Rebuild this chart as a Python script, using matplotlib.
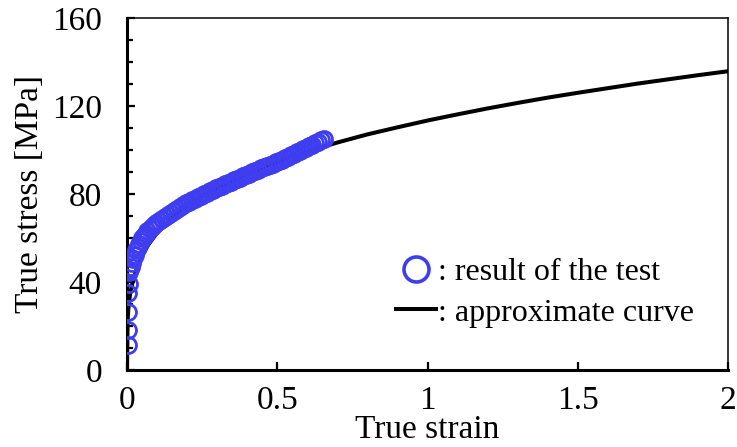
import matplotlib
matplotlib.use("Agg")
import matplotlib.pyplot as plt
from matplotlib.lines import Line2D
from matplotlib.ticker import MultipleLocator

plt.rcParams['font.family'] = ['Liberation Serif', 'DejaVu Serif']
plt.rcParams['font.size'] = 24

# test result
test_strain = [0.003, 0.003, 0.003, 0.004, 0.006, 0.005,
               0.008, 0.012, 0.016, 0.020, 0.025, 0.030, 0.035, 0.040, 0.045, 0.050,
               0.056, 0.062, 0.068, 0.075, 0.082, 0.090, 0.098, 0.106, 0.115, 0.125,
               0.135, 0.145, 0.155, 0.165, 0.175, 0.185, 0.195, 0.205, 0.215, 0.225,
               0.235, 0.245, 0.255, 0.265, 0.275, 0.285, 0.295, 0.305, 0.315, 0.325,
               0.335, 0.345, 0.355, 0.365, 0.375, 0.385, 0.395, 0.405, 0.415, 0.425,
               0.435, 0.445, 0.455, 0.465, 0.475, 0.485, 0.495, 0.505, 0.515, 0.525,
               0.535, 0.545, 0.555, 0.565, 0.575, 0.585, 0.595, 0.605, 0.615, 0.625,
               0.635, 0.645, 0.655]
test_stress = [11.4, 18.2, 26.5, 34.8, 39.1, 44.7,
               45.5, 47.0, 48.5, 50.5, 52.5, 54.5, 56.0, 57.5, 58.8, 60.0,
               61.0, 62.0, 63.0, 64.0, 65.0, 66.0, 67.0, 67.8, 68.6, 69.6,
               70.6, 71.5, 72.5, 73.4, 74.2, 75.0, 75.7, 76.4, 77.1, 77.8,
               78.5, 79.2, 79.9, 80.6, 81.3, 82.0, 82.6, 83.2, 83.8, 84.4,
               85.0, 85.6, 86.2, 86.8, 87.4, 88.0, 88.6, 89.2, 89.8, 90.4,
               91.0, 91.6, 92.1, 92.6, 93.2, 93.8, 94.4, 95.0, 95.6, 96.2,
               96.8, 97.5, 98.2, 98.9, 99.6, 100.3, 101.0, 101.7, 102.4, 103.1,
               103.8, 104.5, 105.0]

# approximate curve
curve_strain = [0.0, 0.002, 0.005, 0.01, 0.02, 0.04, 0.07, 0.1, 0.15, 0.2, 0.3,
                0.4, 0.5, 0.6, 0.7, 0.8, 0.9, 1.0, 1.1, 1.2, 1.3, 1.4, 1.5,
                1.6, 1.7, 1.8, 1.9, 2.0]
curve_stress = [0.0, 22.5, 28.6, 34.2, 41.0, 49.1, 56.8, 62.3, 69.3, 74.6, 82.9,
                89.4, 94.7, 99.3, 103.4, 107.1, 110.3, 113.4, 116.2, 118.9, 121.4,
                123.8, 126.0, 128.1, 130.2, 132.1, 134.0, 135.8]

xticks = [0, 0.5, 1, 1.5, 2]
xticklabels = ['0', '0.5', '1', '1.5', '2']
yticks = [0, 40, 80, 120, 160]

blue = '#3e3ef0'

fig = plt.figure(figsize=(7.37, 4.47), dpi=100)
ax = fig.add_axes([127/737, 1 - 370/447, 601/737, 352/447])

ax.plot(curve_strain, curve_stress, color='black', lw=2.9, zorder=2)
ax.plot(test_strain, test_stress, ls='none', marker='o', ms=11.5, mfc='none',
        mec=blue, mew=2.0, zorder=3)

ax.set_xlim(0, 2)
ax.set_ylim(0, 160)
ax.set_xticks(xticks)
ax.set_xticklabels(xticklabels)
ax.set_yticks(yticks)
ax.yaxis.set_minor_locator(MultipleLocator(10))

ax.tick_params(axis='both', which='both', direction='in', width=1.6)
ax.tick_params(axis='y', which='major', length=6, pad=18)
ax.tick_params(axis='y', which='minor', length=4)
ax.tick_params(axis='x', which='major', length=6, pad=11)

for s in ['left', 'bottom']:
    ax.spines[s].set_linewidth(2.2)
for s in ['top', 'right']:
    ax.spines[s].set_linewidth(1.1)

ax.set_xlabel('True strain', labelpad=-1)
ax.set_ylabel('True stress [MPa]', labelpad=5)

handles = [Line2D([], [], ls='none', marker='o', ms=18, mfc='none', mec=blue, mew=2.6),
           Line2D([], [], color='black', lw=2.9)]
ax.legend(handles, [': result of the test', ': approximate curve'],
          loc='upper left', bbox_to_anchor=(0.448, 0.318), frameon=False,
          fontsize=23, handlelength=1.25, handletextpad=0.05, labelspacing=0.34,
          borderpad=0, borderaxespad=0)

fig.savefig('out.png', dpi=100)
